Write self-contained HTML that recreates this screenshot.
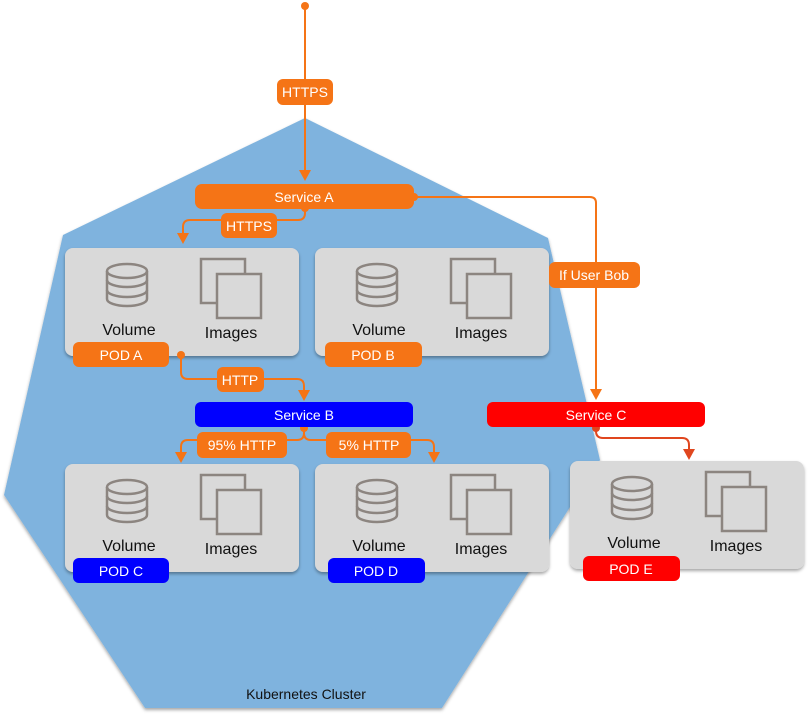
<!DOCTYPE html>
<html><head><style>body{margin:0;background:#fff}svg{display:block}text{font-family:"Liberation Sans",sans-serif}</style></head><body>
<svg width="808" height="714" viewBox="0 0 808 714">
<defs>
<filter id="sh"><feDropShadow dx="0" dy="2" stdDeviation="1.5" flood-color="#000" flood-opacity="0.35"/></filter>
<g id="pod">
<rect x="0" y="0" width="234" height="108" rx="8" fill="#d9d9d9" filter="url(#sh)"/>
<g fill="none" stroke="#8c8580" stroke-width="2.5">
<ellipse cx="62" cy="23" rx="20" ry="7"/>
<path d="M42,23 V51 A20,7 0 0 0 82,51 V23"/>
<path d="M42,32 A20,7 0 0 0 82,32 M42,42 A20,7 0 0 0 82,42"/>
<rect x="136" y="11" width="44" height="44"/>
<rect x="152" y="26" width="44" height="44" fill="#d9d9d9"/>
</g>
<text x="64" y="87" font-size="16" text-anchor="middle" fill="#111">Volume</text>
<text x="166" y="90" font-size="16" text-anchor="middle" fill="#111">Images</text>
</g>
</defs>
<polygon points="305,118 548,238 600,460 442,708 145,708 4,495 63,235" fill="#7fb3de" filter="url(#sh)"/>
<text x="306" y="699" font-size="14" text-anchor="middle" fill="#111">Kubernetes Cluster</text>

<use href="#pod" x="65" y="248"/>
<use href="#pod" x="315" y="248"/>
<use href="#pod" x="65" y="464"/>
<use href="#pod" x="315" y="464"/>
<use href="#pod" x="570" y="461"/>

<g fill="none" stroke="#f57416" stroke-width="2">
<path d="M305,6 V172" />
<path d="M305,208 V213 Q305,220 298,220 H190 Q183,220 183,227 V236"/>
<path d="M414,197 H590 Q596,197 596,203 V392"/>
<path d="M181,355 V372 Q181,379 188,379 H297 Q304,379 304,386 V394"/>
<path d="M304,428 V433 Q304,440 297,440 H188 Q181,440 181,447 V455"/>
<path d="M304,430 V433 Q304,440 311,440 H427 Q434,440 434,447 V455"/>
</g>
<path d="M596,428 V431 Q596,438 603,438 H682 Q689,438 689,445 V452" fill="none" stroke="#e0461e" stroke-width="2"/>
<g fill="#f57416">
<circle cx="305" cy="6" r="4"/>
<path d="M299,170 L311,170 L305,181z"/>
<path d="M177,233 L189,233 L183,244z"/>
<path d="M590,389 L602,389 L596,400z"/>
<path d="M298,390 L310,390 L304,401z"/>
<path d="M175,452 L187,452 L181,463z"/>
<path d="M428,452 L440,452 L434,463z"/>
<circle cx="181" cy="355" r="4"/>
<circle cx="305" cy="208" r="4"/>
<circle cx="414" cy="197" r="4"/>
<circle cx="304" cy="428" r="4"/>
</g>
<path d="M683,449 L695,449 L689,460z" fill="#e0461e"/>
<circle cx="596" cy="428" r="4" fill="#e0461e"/>

<g font-size="14" text-anchor="middle" fill="#fff">
<rect x="277" y="79" width="56" height="26" rx="6" fill="#f57416"/><text x="305" y="97">HTTPS</text>
<rect x="195" y="184" width="219" height="25" rx="7" fill="#f57416"/><text x="304" y="202">Service A</text>
<rect x="221" y="213" width="56" height="25" rx="6" fill="#f57416"/><text x="249" y="231">HTTPS</text>
<rect x="549" y="262" width="91" height="26" rx="6" fill="#f57416"/><text x="594" y="280">If User Bob</text>
<rect x="73" y="342" width="96" height="25" rx="6" fill="#f57416"/><text x="121" y="360">POD A</text>
<rect x="325" y="342" width="97" height="25" rx="6" fill="#f57416"/><text x="373" y="360">POD B</text>
<rect x="217" y="367" width="47" height="25" rx="6" fill="#f57416"/><text x="240" y="385">HTTP</text>
<rect x="195" y="402" width="218" height="25" rx="6" fill="#0000ff"/><text x="304" y="420">Service B</text>
<rect x="487" y="402" width="218" height="25" rx="6" fill="#ff0000"/><text x="596" y="420">Service C</text>
<rect x="197" y="432" width="90" height="26" rx="6" fill="#f57416"/><text x="242" y="450">95% HTTP</text>
<rect x="326" y="432" width="85" height="26" rx="6" fill="#f57416"/><text x="369" y="450">5% HTTP</text>
<rect x="73" y="558" width="96" height="25" rx="6" fill="#0000ff"/><text x="121" y="576">POD C</text>
<rect x="328" y="558" width="97" height="25" rx="6" fill="#0000ff"/><text x="376" y="576">POD D</text>
<rect x="583" y="556" width="97" height="25" rx="6" fill="#ff0000"/><text x="631" y="574">POD E</text>
</g>
</svg>
</body></html>
